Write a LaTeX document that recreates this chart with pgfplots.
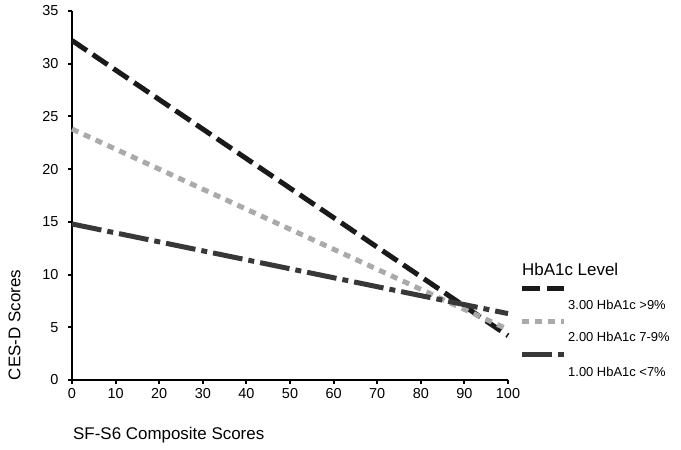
\documentclass[border=0pt]{standalone}
\usepackage{pgfplots}
\pgfplotsset{compat=1.18}
\usepackage{fontspec}
\setmainfont{Liberation Sans}
\definecolor{cblack}{HTML}{1A1A1A}
\definecolor{cgray}{HTML}{AAAAAA}
\definecolor{cdark}{HTML}{383838}
\begin{document}
\begin{tikzpicture}[x=1bp,y=1bp]
\useasboundingbox (-72,-70) rectangle (609,380);
\begin{axis}[
  at={(0,0)}, anchor=origin,
  scale only axis, width=436bp, height=369bp,
  xmin=0, xmax=100, ymin=0, ymax=35,
  axis lines*=left,
  axis line style={line width=1.2pt, -},
  xtick={0,10,...,100}, ytick={0,5,...,35},
  tick align=outside, major tick length=4bp,
  tick style={line width=2pt, black},
  xticklabel style={font=\fontsize{14.5}{16}\selectfont, yshift=-1bp},
  yticklabel style={font=\fontsize{14.5}{16}\selectfont, xshift=-6bp},
  /pgf/number format/assume math mode=true,
  clip=false,
]
\addplot[cblack, line width=5bp, dash pattern=on 18bp off 7bp] coordinates {(0,32.2) (100,4.2)};
\addplot[cgray, line width=5bp, dash pattern=on 7bp off 6bp] coordinates {(0,23.8) (100,4.8)};
\addplot[cdark, line width=5bp, dash pattern=on 30bp off 6bp on 6bp off 6bp] coordinates {(0,14.8) (100,6.3)};
\end{axis}
\node[rotate=90, font=\fontsize{17}{19}\selectfont] at (-57.5,55) {CES-D Scores};
\node[anchor=west, inner sep=0pt, font=\fontsize{17}{19}\selectfont] at (1,-55) {SF-S6 Composite Scores};
\node[anchor=west, inner sep=0pt, font=\fontsize{17}{19}\selectfont] at (450,111) {HbA1c Level};
\draw[cblack, line width=5bp, dash pattern=on 18bp off 7bp] (450,91) -- (492,91);
\node[anchor=west, inner sep=0pt, font=\fontsize{13}{15}\selectfont] at (496,75) {3.00 HbA1c >9\%};
\draw[cgray, line width=5bp, dash pattern=on 7bp off 6bp] (450,58.3) -- (492,58.3);
\node[anchor=west, inner sep=0pt, font=\fontsize{13}{15}\selectfont] at (496,43.3) {2.00 HbA1c 7-9\%};
\draw[cdark, line width=5bp, dash pattern=on 30bp off 6bp on 6bp off 6bp] (450,25) -- (492,25);
\node[anchor=west, inner sep=0pt, font=\fontsize{13}{15}\selectfont] at (496,8.3) {1.00 HbA1c <7\%};
\end{tikzpicture}
\end{document}
